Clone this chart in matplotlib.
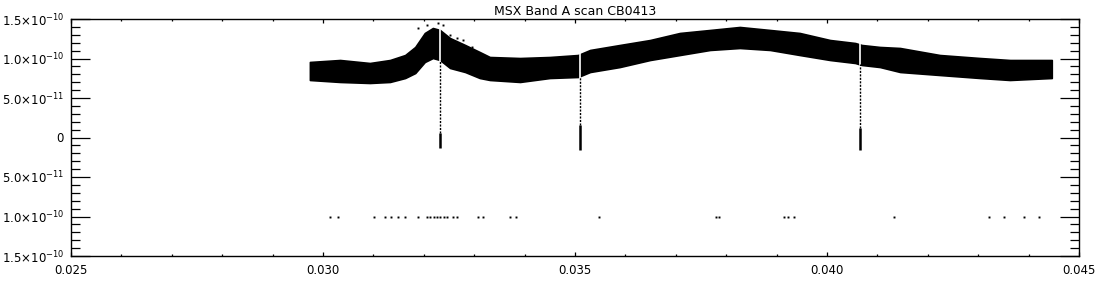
import matplotlib
matplotlib.use("Agg")
import matplotlib.pyplot as plt
from matplotlib.ticker import FixedLocator, FixedFormatter, MultipleLocator
import numpy as np

plt.rcParams['font.family'] = ['DejaVu Sans']
plt.rcParams['mathtext.fontset'] = 'dejavusans'

title = "MSX Band A scan CB0413"

# band envelope (x in scan units, flux in units of 1e-11)
env_x = [0.02974, 0.03034, 0.03093, 0.03133, 0.03163, 0.03183, 0.03202, 0.03218,
         0.03232, 0.03252, 0.03282, 0.03311, 0.03331, 0.03391, 0.03450, 0.03506,
         0.03530, 0.03589, 0.03649, 0.03708, 0.03768, 0.03827, 0.03887, 0.03946,
         0.04006, 0.04056, 0.04069, 0.04105, 0.04145, 0.04224, 0.04304, 0.04363,
         0.04446]
env_upper = [9.56, 9.81, 9.43, 9.81, 10.44, 11.46, 13.23, 13.86, 13.61, 12.59, 11.71,
             10.82, 10.19, 10.06, 10.19, 10.44, 11.08, 11.71, 12.34, 13.23, 13.61,
             13.99, 13.61, 13.23, 12.34, 11.96, 11.71, 11.46, 11.33, 10.44, 10.06,
             9.81, 9.81]
env_lower = [7.28, 7.03, 6.90, 7.03, 7.53, 8.16, 9.56, 10.06, 9.81, 8.80, 8.29,
             7.53, 7.28, 7.03, 7.53, 7.66, 8.29, 8.92, 9.81, 10.44, 11.08, 11.33,
             11.08, 10.44, 9.81, 9.43, 9.18, 8.92, 8.29, 7.91, 7.53, 7.28, 7.53]

# sparse outliers above the band near the bump (units of 1e-11)
out_x = [0.03188, 0.03206, 0.03228, 0.03238, 0.03252, 0.03266, 0.03278, 0.03296]
out_y = [13.86, 14.24, 14.49, 14.24, 12.97, 12.59, 12.34, 11.46]

# dropouts (units of 1e-11)
drop_x = [0.03232, 0.03510, 0.04066]
drop_top = [9.8, 7.7, 9.3]
drop_solid_top = [0.57, 1.58, 1.20]
drop_bottom = [-1.33, -1.58, -1.58]
gap_top = [14.2, 11.0, 12.0]

# isolated points at -1e-10
floor_x = [0.03014, 0.03030, 0.03102, 0.03124, 0.03134, 0.03149, 0.03163, 0.03189,
           0.03207, 0.03213, 0.03221, 0.03227, 0.03233, 0.03241, 0.03247, 0.03257,
           0.03265, 0.03308, 0.03318, 0.03372, 0.03382, 0.03547, 0.03779, 0.03785,
           0.03914, 0.03922, 0.03934, 0.04133, 0.04321, 0.04351, 0.04391, 0.04421]
floor_value = -10.0

y_ticks = [-15, -10, -5, 0, 5, 10, 15]
y_labels = [r'$1.5{\times}10^{-10}$', r'$1.0{\times}10^{-10}$', r'$5.0{\times}10^{-11}$',
            '0', r'$5.0{\times}10^{-11}$', r'$1.0{\times}10^{-10}$', r'$1.5{\times}10^{-10}$']
x_ticks = [0.025, 0.030, 0.035, 0.040, 0.045]
x_labels = ['0.025', '0.030', '0.035', '0.040', '0.045']

scale = 1e-11

fig = plt.figure(figsize=(11, 3), dpi=100)
ax = fig.add_axes([71/1100, 1 - 256/300, 1008/1100, 237/300])

ex = np.array(env_x)
ax.fill_between(ex, np.array(env_lower) * scale, np.array(env_upper) * scale,
                color='black', lw=1.2, edgecolor='black')
ax.plot(out_x, np.array(out_y) * scale, 's', color='black', ms=1.4, mew=0)

for x, gt, dt, st, db in zip(drop_x, gap_top, drop_top, drop_solid_top, drop_bottom):
    ax.plot([x, x], [db * scale, gt * scale], color='white', lw=1.2, solid_capstyle='butt')
    ax.plot([x, x], [st * scale, dt * scale], color='black', lw=1.0, ls=(0, (1.5, 1)))
    ax.plot([x, x], [db * scale, st * scale], color='black', lw=1.8, solid_capstyle='butt')

ax.plot(floor_x, [floor_value * scale] * len(floor_x), 's', color='black', ms=1.4, mew=0)

ax.set_xlim(0.025, 0.045)
ax.set_ylim(-1.5e-10, 1.5e-10)

ax.xaxis.set_major_locator(FixedLocator(x_ticks))
ax.xaxis.set_major_formatter(FixedFormatter(x_labels))
ax.xaxis.set_minor_locator(MultipleLocator(0.001))
ax.yaxis.set_major_locator(FixedLocator([v * scale for v in y_ticks]))
ax.yaxis.set_major_formatter(FixedFormatter(y_labels))
ax.yaxis.set_minor_locator(MultipleLocator(1e-11))

ax.tick_params(axis='both', which='both', direction='in', top=True, right=True,
               color='black', width=0.9)
ax.tick_params(axis='x', which='major', length=3.0, pad=6, labelsize=8.5)
ax.tick_params(axis='x', which='minor', length=1.6)
ax.tick_params(axis='y', which='major', length=13.5, pad=5, labelsize=8.5)
ax.tick_params(axis='y', which='minor', length=6.5)
for sp in ax.spines.values():
    sp.set_linewidth(1.0)

ax.set_title(title, fontsize=9, pad=3)

fig.savefig("out.png", dpi=100, facecolor='white')
